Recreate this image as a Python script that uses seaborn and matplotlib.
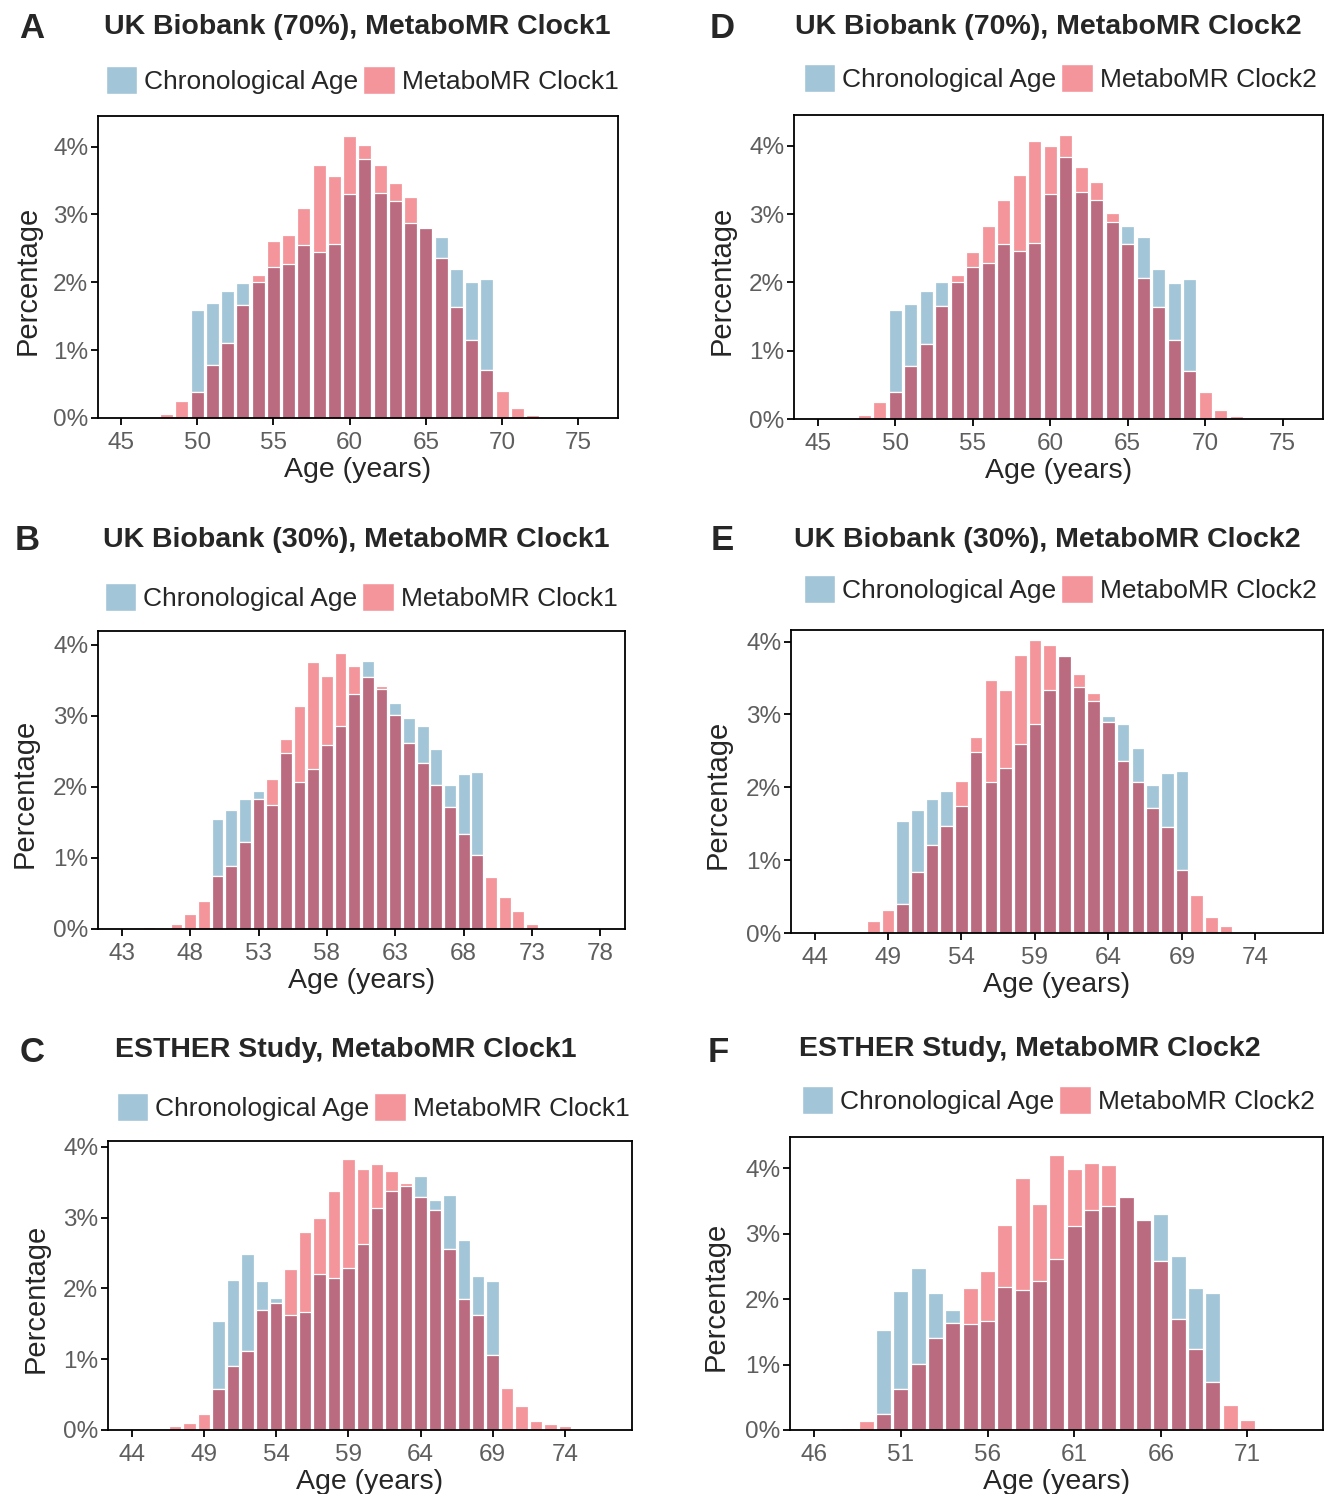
import numpy as np
import seaborn as sns
import matplotlib.pyplot as plt
import matplotlib.ticker as mticker
from matplotlib.patches import Patch

# percentages per integer age
ages_a = list(range(48, 73))
chrono_a = [0, 0, 1.59, 1.70, 1.87, 1.99, 2.00, 2.22, 2.27, 2.55, 2.44, 2.57, 3.30, 3.82, 3.32, 3.20, 2.88, 2.81, 2.66, 2.20, 2.00, 2.05, 0, 0, 0]
clock_a = [0.06, 0.25, 0.39, 0.78, 1.11, 1.66, 2.11, 2.61, 2.70, 3.09, 3.73, 3.57, 4.16, 4.03, 3.73, 3.46, 3.26, 2.80, 2.36, 1.64, 1.15, 0.70, 0.40, 0.14, 0.05]

ages_d = list(range(48, 73))
chrono_d = [0, 0, 1.59, 1.69, 1.88, 2.00, 2.01, 2.22, 2.28, 2.56, 2.46, 2.58, 3.30, 3.83, 3.32, 3.21, 2.88, 2.83, 2.66, 2.20, 1.99, 2.05, 0, 0, 0]
clock_d = [0.06, 0.25, 0.39, 0.78, 1.10, 1.66, 2.11, 2.44, 2.82, 3.21, 3.57, 4.07, 4.00, 4.16, 3.69, 3.47, 3.01, 2.56, 2.06, 1.64, 1.15, 0.70, 0.40, 0.13, 0.04]

ages_b = list(range(45, 74))
chrono_b = [0, 0, 0, 0, 0, 1.54, 1.68, 1.83, 1.94, 1.74, 2.47, 2.07, 2.25, 2.59, 2.85, 3.31, 3.77, 3.37, 3.18, 2.97, 2.86, 2.53, 2.02, 2.18, 2.21, 0, 0, 0, 0]
clock_b = [0.03, 0, 0.07, 0.21, 0.39, 0.74, 0.89, 1.23, 1.83, 2.11, 2.67, 3.13, 3.75, 3.56, 3.88, 3.70, 3.55, 3.42, 3.01, 2.62, 2.34, 2.03, 1.72, 1.34, 1.04, 0.73, 0.45, 0.25, 0.07]

ages_e = list(range(47, 73))
chrono_e = [0, 0, 0, 1.54, 1.69, 1.84, 1.95, 1.75, 2.48, 2.08, 2.26, 2.60, 2.87, 3.33, 3.80, 3.38, 3.19, 2.98, 2.87, 2.54, 2.03, 2.20, 2.22, 0, 0, 0]
clock_e = [0.02, 0.17, 0.32, 0.40, 0.84, 1.21, 1.47, 2.09, 2.69, 3.48, 3.33, 3.81, 4.02, 3.96, 3.82, 3.56, 3.30, 2.90, 2.36, 2.08, 1.71, 1.45, 0.87, 0.52, 0.22, 0.10]

ages_c = list(range(47, 75))
chrono_c = [0, 0, 0, 1.54, 2.12, 2.49, 2.11, 1.86, 1.62, 1.66, 2.20, 2.15, 2.29, 2.62, 3.13, 3.37, 3.44, 3.58, 3.25, 3.32, 2.68, 2.18, 2.10, 0, 0, 0, 0, 0]
clock_c = [0.06, 0.10, 0.22, 0.58, 0.90, 1.12, 1.70, 1.80, 2.27, 2.80, 2.99, 3.37, 3.82, 3.69, 3.76, 3.66, 3.49, 3.29, 3.11, 2.55, 1.85, 1.62, 1.06, 0.59, 0.34, 0.13, 0.08, 0.05]

ages_f = list(range(48, 73))
chrono_f = [0, 0, 1.53, 2.12, 2.47, 2.10, 1.84, 1.62, 1.66, 2.19, 2.14, 2.28, 2.61, 3.12, 3.36, 3.43, 3.56, 3.21, 3.30, 2.66, 2.17, 2.09, 0, 0, 0]
clock_f = [0.03, 0.13, 0.25, 0.62, 1.01, 1.40, 1.63, 2.17, 2.43, 3.13, 3.85, 3.46, 4.20, 3.99, 4.09, 4.05, 3.56, 3.21, 2.58, 1.70, 1.24, 0.74, 0.38, 0.16, 0.03]

titles = ['UK Biobank (70%), MetaboMR Clock1', 'UK Biobank (30%), MetaboMR Clock1', 'ESTHER Study, MetaboMR Clock1',
          'UK Biobank (70%), MetaboMR Clock2', 'UK Biobank (30%), MetaboMR Clock2', 'ESTHER Study, MetaboMR Clock2']
letters = ['A', 'B', 'C', 'D', 'E', 'F']

blue = '#a2c5d8'
pink = '#f4959b'
overlap = '#bb6b80'

sns.set_style('ticks')
plt.rcParams['font.family'] = ['Liberation Sans', 'DejaVu Sans']

W, H = 1325, 1494
fig = plt.figure(figsize=(W / 100, H / 100), dpi=100)

def px_axes(l, t, r, b):
    return fig.add_axes([l / W, 1 - b / H, (r - l) / W, (b - t) / H])

# box in pixels, xlim, xticks, ytop, title centre, legend centre, ylabel x, letter pos
panels = [
    (ages_a, chrono_a, clock_a, (98, 116, 618, 418), (43.5, 77.6), range(45, 76, 5), 4.45, (357, 27), (362, 80), 28, (32, 28), 'Clock1'),
    (ages_b, chrono_b, clock_b, (98, 631, 625, 929), (41.26, 79.8), range(43, 79, 5), 4.19, (356, 540), (361, 597), 25, (27, 540), 'Clock1'),
    (ages_c, chrono_c, clock_c, (108, 1141, 632, 1430), (42.35, 78.65), range(44, 75, 5), 4.08, (346, 1050), (373, 1107), 36, (32, 1052), 'Clock1'),
    (ages_d, chrono_d, clock_d, (794, 115, 1323, 419), (43.47, 77.6), range(45, 76, 5), 4.45, (1048, 27), (1060, 78), 722, (722, 28), 'Clock2'),
    (ages_e, chrono_e, clock_e, (791, 630, 1323, 933), (42.4, 78.6), range(44, 75, 5), 4.16, (1047, 540), (1060, 589), 718, (722, 540), 'Clock2'),
    (ages_f, chrono_f, clock_f, (790, 1137, 1323, 1430), (44.6, 75.36), range(46, 72, 5), 4.48, (1030, 1049), (1058, 1100), 716, (718, 1052), 'Clock2'),
]

for i, (ages, chrono, clock, box, xlim, xt, ytop, tpos, lpos, ylx, lett, clk) in enumerate(panels):
    ax = px_axes(*box)
    both = np.minimum(chrono, clock)
    for vals, col in [(chrono, blue), (clock, pink), (both, overlap)]:
        sns.histplot(x=ages, weights=vals, discrete=True, shrink=0.86, color=col, alpha=1,
                     edgecolor='white', linewidth=0.9, ax=ax)
    ax.set_xlim(*xlim)
    ax.set_ylim(0, ytop)
    ax.set_xticks(list(xt))
    ax.set_yticks([0, 1, 2, 3, 4])
    ax.yaxis.set_major_formatter(mticker.FuncFormatter(lambda v, p: f'{v:.0f}%'))
    ax.tick_params(labelsize=17.5, labelcolor='#5e5e5e', length=5, width=1.3, color='black', pad=2)
    ax.tick_params(axis='x', pad=5)
    for s in ax.spines.values():
        s.set_visible(True)
        s.set_linewidth(1.3)
        s.set_color('black')
    ax.set_xlabel('Age (years)', fontsize=20.5, labelpad=2)
    ax.set_ylabel('')
    fig.text(ylx / W, 1 - ((box[1] + box[3]) / 2 + 13) / H, 'Percentage', rotation=90, fontsize=21,
             ha='center', va='center')
    fig.text(tpos[0] / W, 1 - tpos[1] / H, titles[i], fontsize=20.5, fontweight='bold', ha='center', va='center')
    fig.text(lett[0] / W, 1 - lett[1] / H, letters[i], fontsize=25, fontweight='bold', ha='center', va='center')
    handles = [Patch(facecolor=blue, label='Chronological Age'), Patch(facecolor=pink, label='MetaboMR ' + clk)]
    fig.legend(handles=handles, loc='center', bbox_to_anchor=(lpos[0] / W, 1 - lpos[1] / H), ncol=2,
               frameon=False, fontsize=19, handlelength=1.2, handleheight=1.3, handletextpad=0.25,
               columnspacing=0.2, borderaxespad=0)

fig.savefig('out.png', dpi=100)
